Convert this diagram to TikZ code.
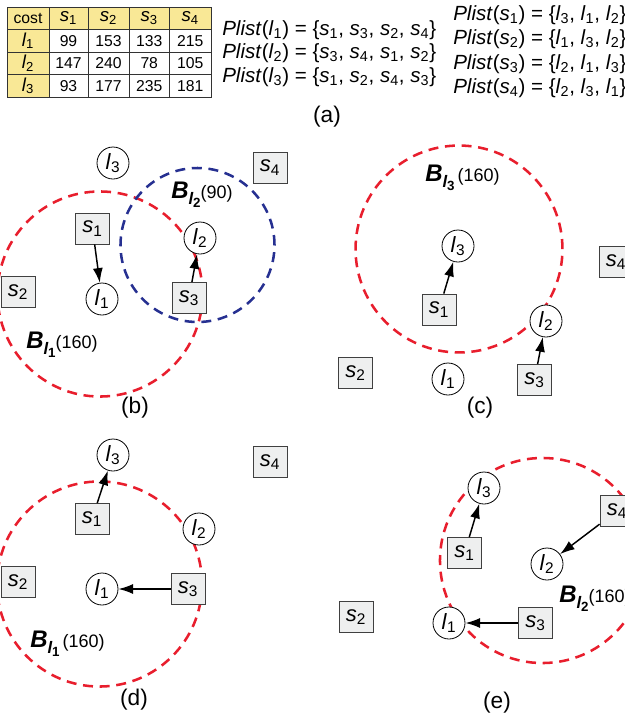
\documentclass[tikz,border=0pt]{standalone}
\usepackage{fontspec}
\setmainfont{Liberation Sans}
\usetikzlibrary{arrows.meta}
\definecolor{ringred}{RGB}{232,30,45}
\definecolor{ringblue}{RGB}{38,48,145}
\definecolor{tabyel}{RGB}{249,232,150}
\definecolor{boxgray}{RGB}{238,239,239}
\newcommand{\vs}[1]{\textit{s}\textsubscript{#1}}
\newcommand{\vl}[1]{\textit{l}\textsubscript{#1}}
\newcommand{\Blab}[2]{{\fontsize{18}{20}\selectfont\bfseries\itshape B\raisebox{-0.22em}{\fontsize{12.5}{13}\selectfont l\raisebox{-0.2em}{\fontsize{10}{10}\selectfont\upshape #1}}}{\fontsize{13.5}{15}\selectfont #2}}
\begin{document}
\begin{tikzpicture}[x=0.75pt,y=-0.75pt,
  sbox/.style={draw=black!75, fill=boxgray, line width=0.6pt, minimum width=25.5pt, minimum height=23.25pt, inner sep=0pt, font=\fontsize{16.5}{18}\selectfont},
  lcirc/.style={circle, draw=black, fill=white, line width=0.6pt, minimum size=24pt, inner sep=0pt, font=\fontsize{16.5}{18}\selectfont},
  arr/.style={-{Latex[length=11pt,width=7.5pt]}, line width=1.1pt},
  ringR/.style={draw=ringred, line width=1.9pt, dash pattern=on 7.5pt off 5pt},
  ringB/.style={draw=ringblue, line width=1.9pt, dash pattern=on 7.5pt off 5pt},
  captxt/.style={font=\fontsize{17}{20}\selectfont},
  plist/.style={anchor=base west, inner sep=0pt, font=\fontsize{15.4}{18}\selectfont},
  tnum/.style={font=\fontsize{11.8}{14}\selectfont, inner sep=0pt},
  thead/.style={font=\fontsize{14}{16}\selectfont\itshape, inner sep=0pt}
]
\useasboundingbox (0,0) rectangle (625,722);

% ---------- table ----------
\fill[tabyel] (7,7) rectangle (211,29.5);
\fill[tabyel] (7,29.5) rectangle (49,97);
\draw[line width=0.6pt, black!80] (7,7) rectangle (211,97);
\foreach \xx in {49,88,129,169.5} \draw[line width=0.6pt, black!80] (\xx,7) -- (\xx,97);
\foreach \yy in {29.5,52,74.5} \draw[line width=0.6pt, black!80] (7,\yy) -- (211,\yy);
\node[tnum] (hc) at (28,18.25) {cost};
\node[thead] (h1) at (68.5,18.25) {s\textsubscript{\upshape 1}};
\node[thead] (h2) at (108.5,18.25) {s\textsubscript{\upshape 2}};
\node[thead] (h3) at (149.25,18.25) {s\textsubscript{\upshape 3}};
\node[thead] (h4) at (190.25,18.25) {s\textsubscript{\upshape 4}};
\node[thead] (r1) at (28,40.75) {l\textsubscript{\upshape 1}};
\node[thead] (r2) at (28,63.25) {l\textsubscript{\upshape 2}};
\node[thead] (r3) at (28,85.75) {l\textsubscript{\upshape 3}};
\node[tnum] (c11) at (68.5,40.75) {99};
\node[tnum] (c12) at (108.5,40.75) {153};
\node[tnum] (c13) at (149.25,40.75) {133};
\node[tnum] (c14) at (190.25,40.75) {215};
\node[tnum] (c21) at (68.5,63.25) {147};
\node[tnum] (c22) at (108.5,63.25) {240};
\node[tnum] (c23) at (149.25,63.25) {78};
\node[tnum] (c24) at (190.25,63.25) {105};
\node[tnum] (c31) at (68.5,85.75) {93};
\node[tnum] (c32) at (108.5,85.75) {177};
\node[tnum] (c33) at (149.25,85.75) {235};
\node[tnum] (c34) at (190.25,85.75) {181};

% ---------- preference lists ----------
\node[plist] (pl1) at (222,35) {\textit{Plist}(\vl{1}) = \{\vs{1}, \vs{3}, \vs{2}, \vs{4}\}};
\node[plist] (pl2) at (222,58.5) {\textit{Plist}(\vl{2}) = \{\vs{3}, \vs{4}, \vs{1}, \vs{2}\}};
\node[plist] (pl3) at (222,82) {\textit{Plist}(\vl{3}) = \{\vs{1}, \vs{2}, \vs{4}, \vs{3}\}};
\node[plist] (ps1) at (453,20) {\textit{Plist}(\vs{1}) = \{\vl{3}, \vl{1}, \vl{2}\}};
\node[plist] (ps2) at (453,44.5) {\textit{Plist}(\vs{2}) = \{\vl{1}, \vl{3}, \vl{2}\}};
\node[plist] (ps3) at (453,69) {\textit{Plist}(\vs{3}) = \{\vl{2}, \vl{1}, \vl{3}\}};
\node[plist] (ps4) at (453,93.5) {\textit{Plist}(\vs{4}) = \{\vl{2}, \vl{3}, \vl{1}\}};
\node[captxt] (capa) at (327,117) {(a)};

% ---------- panel (b) ----------
\draw[ringR] (100,294) circle[radius=76.9pt];
\draw[ringB] (197.5,245) circle[radius=57.75pt];
\node[lcirc] (l3b) at (113,163) {\vl{3}};
\node[sbox] (s4b) at (270,167.5) {\vs{4}};
\node[sbox] (s1b) at (92.5,228.5) {\vs{1}};
\node[lcirc] (l2b) at (200,238) {\vl{2}};
\node[sbox] (s2b) at (18,292) {\vs{2}};
\node[lcirc] (l1b) at (102,299) {\vl{1}};
\node[sbox] (s3b) at (189,298) {\vs{3}};
\draw[arr] (s1b) -- (l1b);
\draw[arr] (s3b) -- (l2b);
\node[anchor=west, inner sep=0pt] (Bb2) at (171,195) {\Blab{2}{(90)}};
\node[anchor=west, inner sep=0pt] (Bb1) at (26,345) {\Blab{1}{(160)}};
\node[captxt] (capb) at (135,408) {(b)};

% ---------- panel (c) ----------
\draw[ringR] (459,249) circle[radius=77.6pt];
\node[lcirc] (l3c) at (458,246) {\vl{3}};
\node[sbox] (s1c) at (439,309.5) {\vs{1}};
\node[lcirc] (l2c) at (546,321) {\vl{2}};
\node[sbox] (s3c) at (534.5,380) {\vs{3}};
\node[lcirc] (l1c) at (448,379) {\vl{1}};
\node[sbox] (s2c) at (355.5,373) {\vs{2}};
\node[sbox] (s4c) at (616,262) {\vs{4}};
\draw[arr] (s1c) -- (l3c);
\draw[arr] (s3c) -- (l2c);
\node[anchor=west, inner sep=0pt] (Bc3) at (425,178) {\Blab{3}{\,(160)}};
\node[captxt] (capc) at (480,408) {(c)};

% ---------- panel (d) ----------
\draw[ringR] (99.5,584) circle[radius=76.9pt];
\node[lcirc] (l3d) at (113,455) {\vl{3}};
\node[sbox] (s4d) at (270,462) {\vs{4}};
\node[sbox] (s1d) at (92,519) {\vs{1}};
\node[lcirc] (l2d) at (199,529) {\vl{2}};
\node[sbox] (s2d) at (18,582) {\vs{2}};
\node[lcirc] (l1d) at (102,589) {\vl{1}};
\node[sbox] (s3d) at (188,589) {\vs{3}};
\draw[arr] (s1d) -- (l3d);
\draw[arr] (s3d) -- (l1d);
\node[anchor=west, inner sep=0pt] (Bd1) at (30,644) {\Blab{1}{\,(160)}};
\node[captxt] (capd) at (134,700) {(d)};

% ---------- panel (e) ----------
\draw[ringR] (542.5,560.5) circle[radius=76.9pt];
\node[lcirc] (l3e) at (484,488) {\vl{3}};
\node[sbox] (s4e) at (617,511) {\vs{4}};
\node[sbox] (s1e) at (464.5,553) {\vs{1}};
\node[lcirc] (l2e) at (547,564) {\vl{2}};
\node[sbox] (s2e) at (356,617) {\vs{2}};
\node[lcirc] (l1e) at (449,623) {\vl{1}};
\node[sbox] (s3e) at (535.5,623) {\vs{3}};
\draw[arr] (s1e) -- (l3e);
\draw[arr] (s4e) -- (l2e);
\draw[arr] (s3e) -- (l1e);
\node[anchor=west, inner sep=0pt] (Be2) at (559,599) {\Blab{2}{(160)}};
\node[captxt] (cape) at (497,703) {(e)};
\end{tikzpicture}
\end{document}
